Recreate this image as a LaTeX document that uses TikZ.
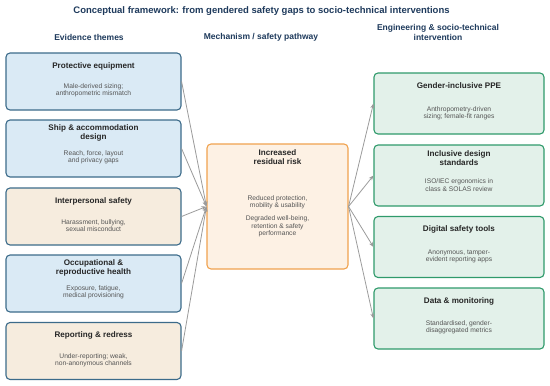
\documentclass[tikz,border=0pt]{standalone}
\usepackage{fontspec}
\setmainfont{Liberation Sans}
\usetikzlibrary{calc,arrows.meta}
\definecolor{navy}{HTML}{1E3A5C}
\definecolor{bluefill}{HTML}{DAEAF5}
\definecolor{beigefill}{HTML}{F6ECDE}
\definecolor{lborder}{HTML}{3C6B8A}
\definecolor{cfill}{HTML}{FDF1E4}
\definecolor{cborder}{HTML}{F0A24E}
\definecolor{gfill}{HTML}{E3F1EA}
\definecolor{gborder}{HTML}{2F9A6B}
\definecolor{bodygray}{HTML}{555555}
\definecolor{arrgray}{HTML}{9A9A9A}
\tikzset{
  box/.style={draw, rounded corners=4pt, line width=1.1pt, inner sep=0pt},
  lbox/.style={box, draw=lborder, minimum width=175pt, minimum height=57pt},
  rbox/.style={box, draw=gborder, fill=gfill, minimum width=170pt, minimum height=61pt},
  ttl/.style={font=\fontsize{8.1}{9}\selectfont\bfseries, text=black!85, align=center},
  body/.style={font=\fontsize{6.7}{7.3}\selectfont, text=bodygray, align=center},
  hdr/.style={font=\fontsize{8.5}{10}\selectfont\bfseries, text=navy, align=center},
  conn/.style={draw=arrgray, line width=0.8pt, -{Stealth[length=5pt,width=4pt]}}
}
\begin{document}
\begin{tikzpicture}[x=1pt,y=-1pt]
\useasboundingbox (0,0) rectangle (550,386);
\node[font=\fontsize{9.5}{11}\selectfont\bfseries, text=navy] (title) at (261.5,11) {Conceptual framework: from gendered safety gaps to socio-technical interventions};
\node[hdr] (h1) at (89,37) {Evidence themes};
\node[hdr] (h2) at (261,37) {Mechanism / safety pathway};
\node[hdr] (h3) at (438,32) {Engineering \& socio-technical\\intervention};
% left boxes
\node[lbox, fill=bluefill] (l1) at (93.5,81.5) {};
\node[lbox, fill=bluefill] (l2) at (93.5,148.5) {};
\node[lbox, fill=beigefill] (l3) at (93.5,216.5) {};
\node[lbox, fill=bluefill] (l4) at (93.5,283.5) {};
\node[lbox, fill=beigefill] (l5) at (93.5,351) {};
\node[ttl] (l1t) at ($(l1.north)+(0,13.5)$) {Protective equipment};
\node[body] (l1b) at ($(l1.south)+(0,-20)$) {Male-derived sizing;\\anthropometric mismatch};
\node[ttl] (l2t) at ($(l2.north)+(0,13.5)$) {Ship \& accommodation\\design};
\node[body] (l2b) at ($(l2.south)+(0,-20)$) {Reach, force, layout\\and privacy gaps};
\node[ttl] (l3t) at ($(l3.north)+(0,13.5)$) {Interpersonal safety};
\node[body] (l3b) at ($(l3.south)+(0,-20)$) {Harassment, bullying,\\sexual misconduct};
\node[ttl] (l4t) at ($(l4.north)+(0,13.5)$) {Occupational \&\\reproductive health};
\node[body] (l4b) at ($(l4.south)+(0,-20)$) {Exposure, fatigue,\\medical provisioning};
\node[ttl] (l5t) at ($(l5.north)+(0,13.5)$) {Reporting \& redress};
\node[body] (l5b) at ($(l5.south)+(0,-20)$) {Under-reporting; weak,\\non-anonymous channels};
% centre
\node[box, draw=cborder, fill=cfill, minimum width=141pt, minimum height=125pt] (c) at (277.5,206.5) {};
\node[ttl] (ct) at ($(c.north)+(0,13.5)$) {Increased\\residual risk};
\node[body] (cb) at (277.5,216) {Reduced protection,\\mobility \& usability\\[6pt]Degraded well-being,\\retention \& safety\\performance};
% right boxes
\node[rbox] (r1) at (459,103.5) {};
\node[rbox] (r2) at (459,175.5) {};
\node[rbox] (r3) at (459,247) {};
\node[rbox] (r4) at (459,318.5) {};
\node[ttl] (r1t) at ($(r1.north)+(0,13.5)$) {Gender-inclusive PPE};
\node[body] (r1b) at ($(r1.south)+(0,-21.5)$) {Anthropometry-driven\\sizing; female-fit ranges};
\node[ttl] (r2t) at ($(r2.north)+(0,13.5)$) {Inclusive design\\standards};
\node[body] (r2b) at ($(r2.south)+(0,-21.5)$) {ISO/IEC ergonomics in\\class \& SOLAS review};
\node[ttl] (r3t) at ($(r3.north)+(0,13.5)$) {Digital safety tools};
\node[body] (r3b) at ($(r3.south)+(0,-22)$) {Anonymous, tamper-\\evident reporting apps};
\node[ttl] (r4t) at ($(r4.north)+(0,13.5)$) {Data \& monitoring};
\node[body] (r4b) at ($(r4.south)+(0,-22.5)$) {Standardised, gender-\\disaggregated metrics};
% connectors
\foreach \i in {1,...,5} \draw[conn] (l\i.east) -- (c.west);
\foreach \i in {1,...,4} \draw[conn] (c.east) -- (r\i.west);
\end{tikzpicture}
\end{document}
